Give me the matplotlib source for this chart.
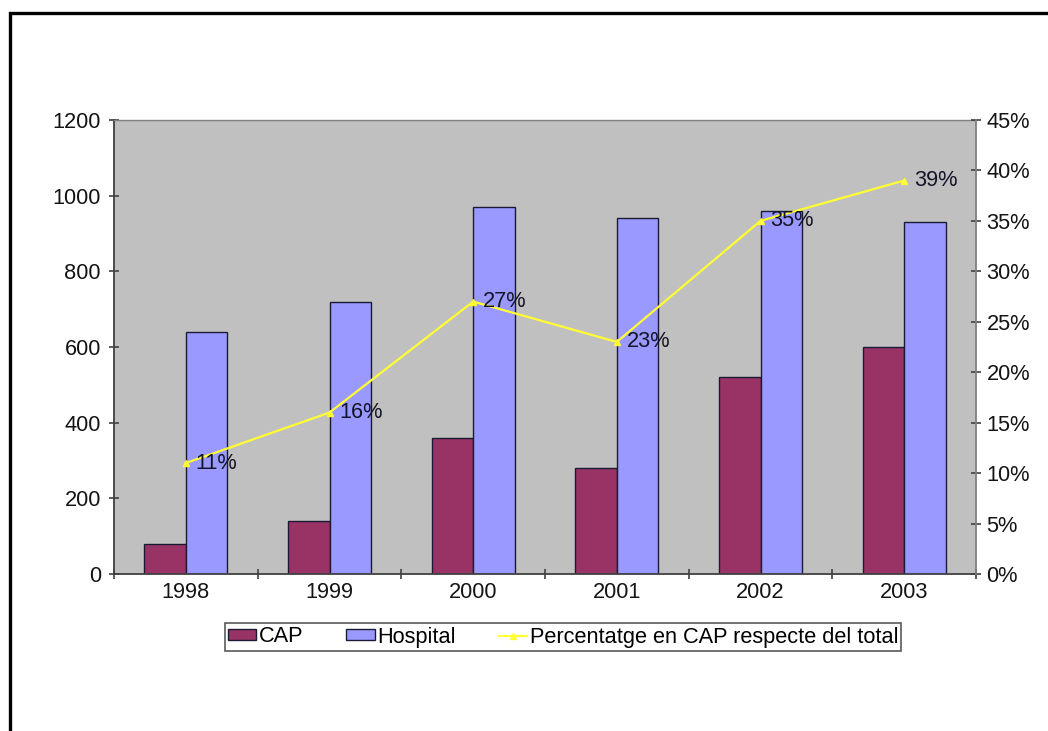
import matplotlib
matplotlib.use("Agg")
import matplotlib.pyplot as plt
from matplotlib.patches import Rectangle
from matplotlib.lines import Line2D
from matplotlib.ticker import FuncFormatter, MultipleLocator
import numpy as np

plt.rcParams['font.family'] = ['Liberation Sans', 'DejaVu Sans']

years = ['1998', '1999', '2000', '2001', '2002', '2003']
cap = [80, 140, 360, 280, 520, 600]
hospital = [640, 720, 970, 940, 960, 930]
pct_cap = [11, 16, 27, 23, 35, 39]

CAP_COLOR = '#993366'
HOSP_COLOR = '#9999FF'
LINE_COLOR = '#FFFF33'
BG_COLOR = '#C0C0C0'
AXIS_COLOR = '#404040'
TEXT_COLOR = '#141414'
FS = 15.7

fig = plt.figure(figsize=(10.48, 7.31), dpi=100)
W, H = 1048, 731

# outer frame around the chart
fig.patches.append(Rectangle((9.5 / W, -0.2), 1.3, 1.2 - 12.5 / H,
                             transform=fig.transFigure, fill=False,
                             edgecolor='black', linewidth=2.4, clip_on=False))

left, right, top, bottom = 114, 976, 120, 574
ax = fig.add_axes([left / W, 1 - bottom / H, (right - left) / W, (bottom - top) / H])
ax.set_facecolor(BG_COLOR)

x = np.arange(len(years))
w = 0.29
ax.bar(x, cap, width=-w, align='edge', color=CAP_COLOR,
       edgecolor='#1a1a33', linewidth=1.0, label='CAP', zorder=2)
ax.bar(x, hospital, width=w, align='edge', color=HOSP_COLOR,
       edgecolor='#1a1a33', linewidth=1.0, label='Hospital', zorder=2)

ax.set_xlim(-0.5, len(years) - 0.5)
ax.set_ylim(0, 1200)
ax.yaxis.set_major_locator(MultipleLocator(200))

# category labels centred, ticks on the category boundaries
ax.set_xticks(x)
ax.set_xticklabels(years)
ax.set_xticks(np.arange(-0.5, len(years) + 0.5, 1), minor=True)
ax.tick_params(axis='x', which='major', length=0, pad=6, labelsize=FS, colors=TEXT_COLOR)
ax.tick_params(axis='x', which='minor', length=7, direction='inout', color=AXIS_COLOR, width=1.2)
ax.tick_params(axis='y', length=7, direction='inout', color=AXIS_COLOR, width=1.2,
               labelsize=FS, pad=6, labelcolor=TEXT_COLOR)

for side in ['left', 'bottom']:
    ax.spines[side].set_color(AXIS_COLOR)
    ax.spines[side].set_linewidth(1.3)
ax.spines['top'].set_color('#808080')
ax.spines['top'].set_linewidth(1.0)
ax.spines['right'].set_visible(False)

ax2 = ax.twinx()
ax2.set_ylim(0, 45)
ax2.yaxis.set_major_locator(MultipleLocator(5))
ax2.yaxis.set_major_formatter(FuncFormatter(lambda v, p: f'{int(round(v))}%'))
ax2.tick_params(axis='y', length=7, direction='inout', color=AXIS_COLOR, width=1.2,
                labelsize=FS, pad=4, labelcolor=TEXT_COLOR)
for side in ['left', 'bottom', 'top']:
    ax2.spines[side].set_visible(False)
ax2.spines['right'].set_color('#808080')
ax2.spines['right'].set_linewidth(1.3)

ax2.plot(x, pct_cap, color=LINE_COLOR, linewidth=1.6, marker='^', markersize=5,
         markerfacecolor=LINE_COLOR, markeredgecolor=LINE_COLOR, zorder=3,
         label='Percentatge en CAP respecte del total')
for xi, p in zip(x, pct_cap):
    ax2.annotate(f'{p}%', (xi, p), xytext=(7, 0), textcoords='offset points',
                 va='center', ha='left', fontsize=FS, color='#141428')

handles = [
    Rectangle((0, 0), 1, 1, facecolor=CAP_COLOR, edgecolor='#1a1a33', linewidth=1.0),
    Rectangle((0, 0), 1, 1, facecolor=HOSP_COLOR, edgecolor='#1a1a33', linewidth=1.0),
    Line2D([], [], color=LINE_COLOR, linewidth=1.6, marker='^', markersize=5,
           markerfacecolor=LINE_COLOR, markeredgecolor=LINE_COLOR),
]
labels = ['CAP', 'Hospital', 'Percentatge en CAP respecte del total']
leg = fig.legend(handles, labels, loc='center', bbox_to_anchor=(563 / W, 1 - 637 / H),
                 ncol=3, frameon=True, fancybox=False, fontsize=FS,
                 handlelength=1.3, handleheight=0.4, handletextpad=0.1,
                 columnspacing=2.0, borderpad=0.15, borderaxespad=0)
leg.get_frame().set_edgecolor('#303030')
leg.get_frame().set_linewidth(1.2)

fig.savefig('out.png', dpi=100)
